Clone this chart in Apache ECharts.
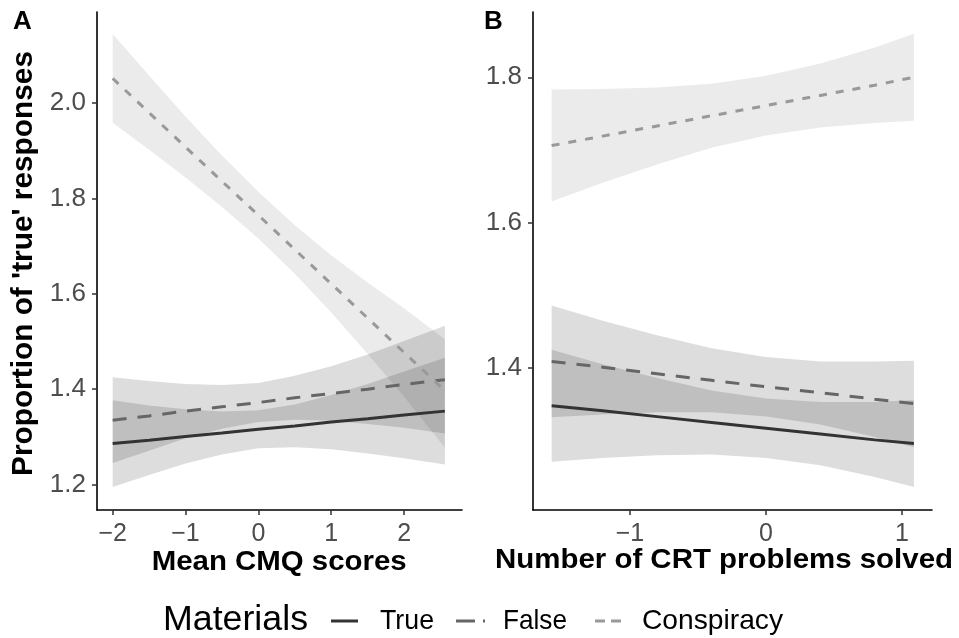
<!DOCTYPE html>
<html>
<head>
<meta charset="utf-8">
<script src="https://cdn.jsdelivr.net/npm/echarts@6/dist/echarts.min.js"></script>
<style>
html,body{margin:0;padding:0;background:#fff;}
#chart{width:959px;height:638px;}
</style>
</head>
<body>
<div id="chart"></div>
<script>
// ---------- Data ----------
// Panel A: Mean CMQ scores
const xA = [-2, -1.5, -1, -0.5, 0, 0.5, 1, 1.5, 2, 2.56];
const trueLineA  = [1.286, 1.293, 1.301, 1.308, 1.316, 1.323, 1.331, 1.338, 1.346, 1.354];
const trueLowA   = [1.195, 1.220, 1.244, 1.263, 1.276, 1.278, 1.274, 1.265, 1.255, 1.242];
const trueUpA    = [1.377, 1.366, 1.358, 1.353, 1.356, 1.368, 1.388, 1.411, 1.437, 1.466];
const falseLineA = [1.335, 1.344, 1.354, 1.363, 1.372, 1.382, 1.391, 1.400, 1.410, 1.420];
const falseLowA  = [1.245, 1.271, 1.297, 1.317, 1.331, 1.336, 1.334, 1.327, 1.319, 1.307];
const falseUpA   = [1.425, 1.417, 1.411, 1.409, 1.413, 1.428, 1.448, 1.473, 1.501, 1.533];
const consLineA  = [2.052, 1.980, 1.908, 1.836, 1.765, 1.693, 1.621, 1.549, 1.477, 1.397];
const consLowA   = [1.959, 1.902, 1.844, 1.782, 1.716, 1.642, 1.561, 1.474, 1.384, 1.277];
const consUpA    = [2.145, 2.058, 1.972, 1.890, 1.814, 1.744, 1.681, 1.624, 1.570, 1.505];

// Panel B: Number of CRT problems solved
const xB = [-1.576, -1.2, -0.8, -0.4, 0, 0.4, 0.8, 1.088];
const trueLineB  = [1.348, 1.341, 1.333, 1.325, 1.317, 1.309, 1.301, 1.296];
const trueLowB   = [1.271, 1.276, 1.280, 1.281, 1.276, 1.266, 1.250, 1.236];
const trueUpB    = [1.425, 1.405, 1.386, 1.369, 1.358, 1.353, 1.353, 1.356];
const falseLineB = [1.409, 1.401, 1.392, 1.383, 1.374, 1.366, 1.357, 1.351];
const falseLowB  = [1.332, 1.336, 1.339, 1.339, 1.333, 1.322, 1.305, 1.291];
const falseUpB   = [1.486, 1.465, 1.445, 1.427, 1.415, 1.409, 1.409, 1.410];
const consLineB  = [1.706, 1.719, 1.733, 1.747, 1.761, 1.775, 1.789, 1.800];
const consLowB   = [1.629, 1.655, 1.680, 1.703, 1.720, 1.731, 1.737, 1.740];
const consUpB    = [1.783, 1.784, 1.786, 1.791, 1.802, 1.819, 1.841, 1.860];

// Tick labels
const xTicksA = [-2, -1, 0, 1, 2];
const yTicksA = [1.2, 1.4, 1.6, 1.8, 2.0];
const xTicksB = [-1, 0, 1];
const yTicksB = [1.4, 1.6, 1.8];

// Text
const yTitle = "Proportion of 'true' responses";
const xTitleA = "Mean CMQ scores";
const xTitleB = "Number of CRT problems solved";
const legendTitle = "Materials";
const legendNames = ["True", "False", "Conspiracy"];

// ---------- Styling ----------
const FONT = '"Liberation Sans", Arial, sans-serif';
const C_TRUE = '#333333', C_FALSE = '#666666', C_CONS = '#999999';
const F_TF = 'rgba(0,0,0,0.135)', F_CONS = 'rgba(0,0,0,0.08)';
const DASH_FALSE = [14, 11], DASH_CONS = [8, 9];

const ctx = document.createElement('canvas').getContext('2d');
function measure(text, weight, size) {
  ctx.font = weight + ' ' + size + 'px ' + FONT;
  return ctx.measureText(text).width;
}
function txt(text, o) {
  const w = o.weight || 'normal';
  const sx = o.target ? o.target / measure(text, w, o.size) : 1;
  return {
    type: 'text', x: o.x, y: o.y, rotation: o.rotation || 0, scaleX: sx, z: 10,
    style: {
      text: text, font: w + ' ' + o.size + 'px ' + FONT, fill: o.color || '#000',
      align: o.align || 'left', verticalAlign: 'middle',
      textAlign: o.align || 'left', textVerticalAlign: 'middle'
    }
  };
}
function keyLine(x1, x2, y, color, dash) {
  return { type: 'line', z: 10, shape: { x1: x1, y1: y, x2: x2, y2: y },
    style: { stroke: color, lineWidth: 3, lineDash: dash || null, lineCap: 'butt' } };
}

function band(xs, lo, hi, fill, idx) {
  return {
    type: 'custom', xAxisIndex: idx, yAxisIndex: idx, silent: true, z: 1,
    data: xs.map((x, i) => [x, lo[i], hi[i]]),
    encode: { x: 0, y: [1, 2] },
    renderItem: function (params, api) {
      if (params.dataIndex !== 0) return null;
      const pts = [];
      for (let i = 0; i < xs.length; i++) pts.push(api.coord([xs[i], hi[i]]));
      for (let i = xs.length - 1; i >= 0; i--) pts.push(api.coord([xs[i], lo[i]]));
      return { type: 'polygon', shape: { points: pts }, style: { fill: fill } };
    }
  };
}
function line(xs, ys, color, dash, idx, name) {
  return {
    type: 'line', name: name, xAxisIndex: idx, yAxisIndex: idx, z: 3,
    data: xs.map((x, i) => [x, ys[i]]),
    showSymbol: false, symbol: 'none', silent: true, animation: false,
    lineStyle: { color: color, width: 3, type: dash || 'solid', cap: 'butt' }
  };
}

const minusFmt = v => (v < 0 ? '\u2212' + Math.abs(v) : String(v));
function xAxis(idx, min, max, ticks) {
  return {
    type: 'value', gridIndex: idx, min: min, max: max, position: 'bottom',
    axisLine: { show: true, onZero: false, lineStyle: { color: '#000', width: 1.6 } },
    axisTick: { show: true, length: 5, customValues: ticks, lineStyle: { color: '#333', width: 1.5 } },
    axisLabel: { customValues: ticks, formatter: minusFmt, color: '#4d4d4d', fontSize: 25, fontFamily: FONT, margin: 12 },
    splitLine: { show: false }
  };
}
function yAxis(idx, min, max, ticks) {
  return {
    type: 'value', gridIndex: idx, min: min, max: max, position: 'left',
    axisLine: { show: true, onZero: false, lineStyle: { color: '#000', width: 1.6 } },
    axisTick: { show: true, length: 5, customValues: ticks, lineStyle: { color: '#333', width: 1.5 } },
    axisLabel: { customValues: ticks, formatter: v => v.toFixed(1), color: '#4d4d4d', fontSize: 26, fontFamily: FONT, margin: 11 },
    splitLine: { show: false }
  };
}

const chart = echarts.init(document.getElementById('chart'), null, { renderer: 'canvas' });
chart.setOption({
  animation: false,
  backgroundColor: '#fff',
  grid: [
    { left: 97, top: 12, width: 365, height: 498 },
    { left: 533, top: 12, width: 399, height: 498 }
  ],
  xAxis: [xAxis(0, -2.215, 2.795, xTicksA), xAxis(1, -1.713, 1.221, xTicksB)],
  yAxis: [yAxis(0, 1.1466, 2.1912, yTicksA), yAxis(1, 1.2045, 1.8898, yTicksB)],
  series: [
    band(xA, trueLowA, trueUpA, F_TF, 0),
    band(xA, falseLowA, falseUpA, F_TF, 0),
    band(xA, consLowA, consUpA, F_CONS, 0),
    line(xA, trueLineA, C_TRUE, null, 0, legendNames[0]),
    line(xA, falseLineA, C_FALSE, DASH_FALSE, 0, legendNames[1]),
    line(xA, consLineA, C_CONS, DASH_CONS, 0, legendNames[2]),
    band(xB, trueLowB, trueUpB, F_TF, 1),
    band(xB, falseLowB, falseUpB, F_TF, 1),
    band(xB, consLowB, consUpB, F_CONS, 1),
    line(xB, trueLineB, C_TRUE, null, 1, legendNames[0]),
    line(xB, falseLineB, C_FALSE, DASH_FALSE, 1, legendNames[1]),
    line(xB, consLineB, C_CONS, DASH_CONS, 1, legendNames[2])
  ],
  graphic: [
    txt('A', { x: 13, y: 21.5, size: 26, weight: 'bold' }),
    txt('B', { x: 484, y: 21.5, size: 26, weight: 'bold' }),
    txt(yTitle, { x: 24.2, y: 263.5, size: 30, weight: 'bold', align: 'center', rotation: Math.PI / 2, target: 425 }),
    txt(xTitleA, { x: 279.2, y: 562, size: 28, weight: 'bold', align: 'center', target: 255 }),
    txt(xTitleB, { x: 724, y: 560, size: 28, weight: 'bold', align: 'center', target: 458 }),
    txt(legendTitle, { x: 163, y: 620, size: 35, target: 145 }),
    keyLine(331, 358, 621, C_TRUE, null),
    txt(legendNames[0], { x: 380, y: 621, size: 28, target: 54 }),
    keyLine(456, 486, 621, C_FALSE, [19, 8, 2, 10]),
    txt(legendNames[1], { x: 503, y: 621, size: 28, target: 64 }),
    keyLine(595, 622, 621, C_CONS, [10, 6]),
    txt(legendNames[2], { x: 642, y: 621, size: 28, target: 141 })
  ]
});
</script>
</body>
</html>
